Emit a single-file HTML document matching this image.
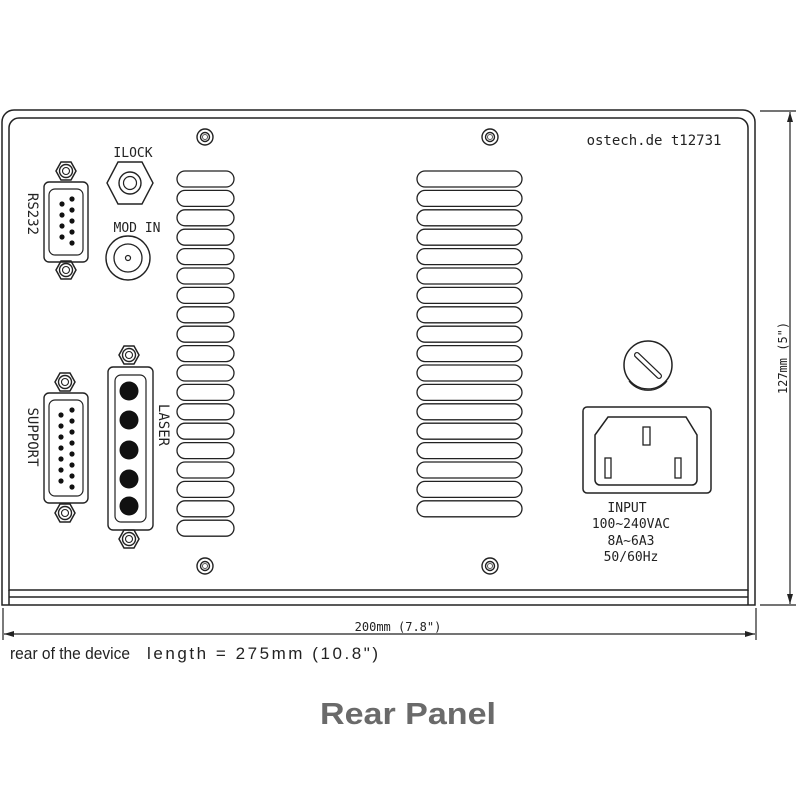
<!DOCTYPE html>
<html><head><meta charset="utf-8"><style>
html,body{margin:0;padding:0;background:#fff}
svg{display:block}
text{font-family:"Liberation Sans",sans-serif}
.m{font-family:"DejaVu Sans Mono","Liberation Mono",monospace}
</style></head><body>
<svg width="800" height="800" viewBox="0 0 800 800" xmlns="http://www.w3.org/2000/svg">
<defs>
<g id="vent"><rect x="0" y="0" width="57" height="16" rx="8" fill="none" stroke="#222" stroke-width="1.3"/></g>
<g id="ventR"><rect x="0" y="0" width="105" height="16" rx="8" fill="none" stroke="#222" stroke-width="1.3"/></g>
<g id="screw"><circle r="8" fill="none" stroke="#222" stroke-width="1.4"/><circle r="4.5" fill="none" stroke="#222" stroke-width="1.4"/><circle r="2.5" fill="none" stroke="#555" stroke-width="1"/></g>
<g id="nut"><polygon points="-10,0 -5,-9 5,-9 10,0 5,9 -5,9" fill="none" stroke="#222" stroke-width="1.5"/><circle r="6.5" fill="none" stroke="#222" stroke-width="1.4"/><circle r="3.5" fill="none" stroke="#222" stroke-width="1.1"/></g>
</defs>
<g fill="none" stroke="#222" stroke-width="1.5">
<path d="M2,605 V122 A12,12 0 0 1 14,110 H743 A12,12 0 0 1 755,122 V605 Z"/>
<path d="M9,590 V128 A10,10 0 0 1 19,118 H738 A10,10 0 0 1 748,128 V590 Z"/>
<line x1="9" y1="597" x2="748" y2="597"/>
<line x1="9" y1="590" x2="9" y2="605"/>
<line x1="748" y1="590" x2="748" y2="605"/>
</g>
<g stroke="#222" stroke-width="1.2" fill="none">
<line x1="760" y1="111" x2="796" y2="111"/>
<line x1="760" y1="605" x2="796" y2="605"/>
<line x1="790" y1="112" x2="790" y2="604"/>
<line x1="3" y1="608" x2="3" y2="640"/>
<line x1="756" y1="608" x2="756" y2="640"/>
<line x1="4" y1="634" x2="755" y2="634"/>
</g>
<polygon points="790,112 787,122 793,122" fill="#222"/>
<polygon points="790,604 787,594 793,594" fill="#222"/>
<polygon points="4,634 14,631 14,637" fill="#222"/>
<polygon points="755,634 745,631 745,637" fill="#222"/>
<text class="m" x="398" y="631" font-size="12" text-anchor="middle" fill="#222">200mm (7.8")</text>
<text class="m" x="0" y="0" font-size="12" text-anchor="middle" fill="#222" transform="translate(787,358) rotate(-90)">127mm (5")</text>
<text x="10" y="659" font-size="17" fill="#222" textLength="120" lengthAdjust="spacingAndGlyphs">rear of the device</text>
<text x="147" y="659" font-size="17" fill="#222" textLength="231" lengthAdjust="spacing">length = 275mm (10.8")</text>
<text x="408" y="724" font-size="31" font-weight="bold" fill="#6a6a6a" text-anchor="middle" textLength="176" lengthAdjust="spacingAndGlyphs">Rear Panel</text>
<text class="m" x="654" y="145" font-size="14" text-anchor="middle" fill="#222">ostech.de t12731</text>
<g>
<use href="#vent" x="177" y="171"/><use href="#vent" x="177" y="190.4"/><use href="#vent" x="177" y="209.8"/><use href="#vent" x="177" y="229.2"/><use href="#vent" x="177" y="248.6"/><use href="#vent" x="177" y="268"/><use href="#vent" x="177" y="287.4"/><use href="#vent" x="177" y="306.8"/><use href="#vent" x="177" y="326.2"/><use href="#vent" x="177" y="345.6"/><use href="#vent" x="177" y="365"/><use href="#vent" x="177" y="384.4"/><use href="#vent" x="177" y="403.8"/><use href="#vent" x="177" y="423.2"/><use href="#vent" x="177" y="442.6"/><use href="#vent" x="177" y="462"/><use href="#vent" x="177" y="481.4"/><use href="#vent" x="177" y="500.8"/><use href="#vent" x="177" y="520.2"/>
<use href="#ventR" x="417" y="171"/><use href="#ventR" x="417" y="190.4"/><use href="#ventR" x="417" y="209.8"/><use href="#ventR" x="417" y="229.2"/><use href="#ventR" x="417" y="248.6"/><use href="#ventR" x="417" y="268"/><use href="#ventR" x="417" y="287.4"/><use href="#ventR" x="417" y="306.8"/><use href="#ventR" x="417" y="326.2"/><use href="#ventR" x="417" y="345.6"/><use href="#ventR" x="417" y="365"/><use href="#ventR" x="417" y="384.4"/><use href="#ventR" x="417" y="403.8"/><use href="#ventR" x="417" y="423.2"/><use href="#ventR" x="417" y="442.6"/><use href="#ventR" x="417" y="462"/><use href="#ventR" x="417" y="481.4"/><use href="#ventR" x="417" y="500.8"/>
</g>
<use href="#screw" x="205" y="137"/><use href="#screw" x="490" y="137"/>
<use href="#screw" x="205" y="566"/><use href="#screw" x="490" y="566"/>
<use href="#nut" x="66" y="171"/><use href="#nut" x="66" y="270"/>
<rect x="44" y="182" width="44" height="80" rx="5" fill="none" stroke="#222" stroke-width="1.4"/>
<rect x="49" y="189" width="34" height="66" rx="6" fill="none" stroke="#222" stroke-width="1.2"/>
<g fill="#111"><circle cx="72" cy="199" r="2.6"/><circle cx="72" cy="210" r="2.6"/><circle cx="72" cy="221" r="2.6"/><circle cx="72" cy="232" r="2.6"/><circle cx="72" cy="243" r="2.6"/>
<circle cx="62" cy="204" r="2.6"/><circle cx="62" cy="215" r="2.6"/><circle cx="62" cy="226" r="2.6"/><circle cx="62" cy="237" r="2.6"/></g>
<text class="m" font-size="14" fill="#222" text-anchor="middle" transform="translate(28,214) rotate(90)">RS232</text>
<text class="m" x="133" y="157" font-size="13" text-anchor="middle" fill="#222">ILOCK</text>
<polygon points="107,183 118,162 142,162 153,183 142,204 118,204" fill="none" stroke="#222" stroke-width="1.4"/>
<circle cx="130" cy="183" r="11" fill="none" stroke="#222" stroke-width="1.4"/>
<circle cx="130" cy="183" r="6.5" fill="none" stroke="#222" stroke-width="1.2"/>
<text class="m" x="137" y="232" font-size="13" text-anchor="middle" fill="#222">MOD IN</text>
<circle cx="128" cy="258" r="22" fill="none" stroke="#222" stroke-width="1.4"/>
<circle cx="128" cy="258" r="14" fill="none" stroke="#222" stroke-width="1.3"/>
<circle cx="128" cy="258" r="2.5" fill="none" stroke="#222" stroke-width="1.2"/>
<use href="#nut" x="65" y="382"/><use href="#nut" x="65" y="513"/>
<rect x="44" y="393" width="44" height="110" rx="5" fill="none" stroke="#222" stroke-width="1.4"/>
<rect x="49" y="400" width="34" height="96" rx="6" fill="none" stroke="#222" stroke-width="1.2"/>
<g fill="#111"><circle cx="72" cy="410" r="2.6"/><circle cx="72" cy="421" r="2.6"/><circle cx="72" cy="432" r="2.6"/><circle cx="72" cy="443" r="2.6"/><circle cx="72" cy="454" r="2.6"/><circle cx="72" cy="465" r="2.6"/><circle cx="72" cy="476" r="2.6"/><circle cx="72" cy="487" r="2.6"/>
<circle cx="61" cy="415" r="2.6"/><circle cx="61" cy="426" r="2.6"/><circle cx="61" cy="437" r="2.6"/><circle cx="61" cy="448" r="2.6"/><circle cx="61" cy="459" r="2.6"/><circle cx="61" cy="470" r="2.6"/><circle cx="61" cy="481" r="2.6"/></g>
<text class="m" font-size="14" fill="#222" text-anchor="middle" transform="translate(28,437) rotate(90)">SUPPORT</text>
<use href="#nut" x="129" y="355"/><use href="#nut" x="129" y="539"/>
<rect x="108" y="367" width="45" height="163" rx="5" fill="none" stroke="#222" stroke-width="1.4"/>
<rect x="115" y="375" width="31" height="147" rx="6" fill="none" stroke="#222" stroke-width="1.2"/>
<g fill="#111"><circle cx="129" cy="391" r="9.5"/><circle cx="129" cy="420" r="9.5"/><circle cx="129" cy="450" r="9.5"/><circle cx="129" cy="479" r="9.5"/><circle cx="129" cy="506" r="9.5"/></g>
<text class="m" font-size="14" fill="#222" text-anchor="middle" transform="translate(159,425) rotate(90)">LASER</text>
<circle cx="648" cy="365" r="24" fill="none" stroke="#222" stroke-width="1.5"/>
<path d="M629,381 A24,24 0 0 0 667,381" fill="none" stroke="#222" stroke-width="1.2"/>
<line x1="637" y1="355" x2="659" y2="376" stroke="#222" stroke-width="6" stroke-linecap="round"/>
<line x1="637" y1="355" x2="659" y2="376" stroke="#fff" stroke-width="3.5" stroke-linecap="round"/>
<rect x="583" y="407" width="128" height="86" rx="4" fill="none" stroke="#222" stroke-width="1.5"/>
<path d="M595,435 L608,417 H686 L697,435 V480 A5,5 0 0 1 692,485 H600 A5,5 0 0 1 595,480 Z" fill="none" stroke="#222" stroke-width="1.5"/>
<rect x="643" y="427" width="7" height="18" fill="none" stroke="#222" stroke-width="1.3"/>
<rect x="605" y="458" width="6" height="20" fill="none" stroke="#222" stroke-width="1.3"/>
<rect x="675" y="458" width="6" height="20" fill="none" stroke="#222" stroke-width="1.3"/>
<g font-size="13" fill="#222" text-anchor="middle">
<text x="627" y="512" class="m">INPUT</text>
<text x="631" y="528" class="m">100~240VAC</text>
<text x="631" y="545" class="m">8A~6A3</text>
<text x="631" y="561" class="m">50/60Hz</text>
</g>
</svg>
</body></html>
